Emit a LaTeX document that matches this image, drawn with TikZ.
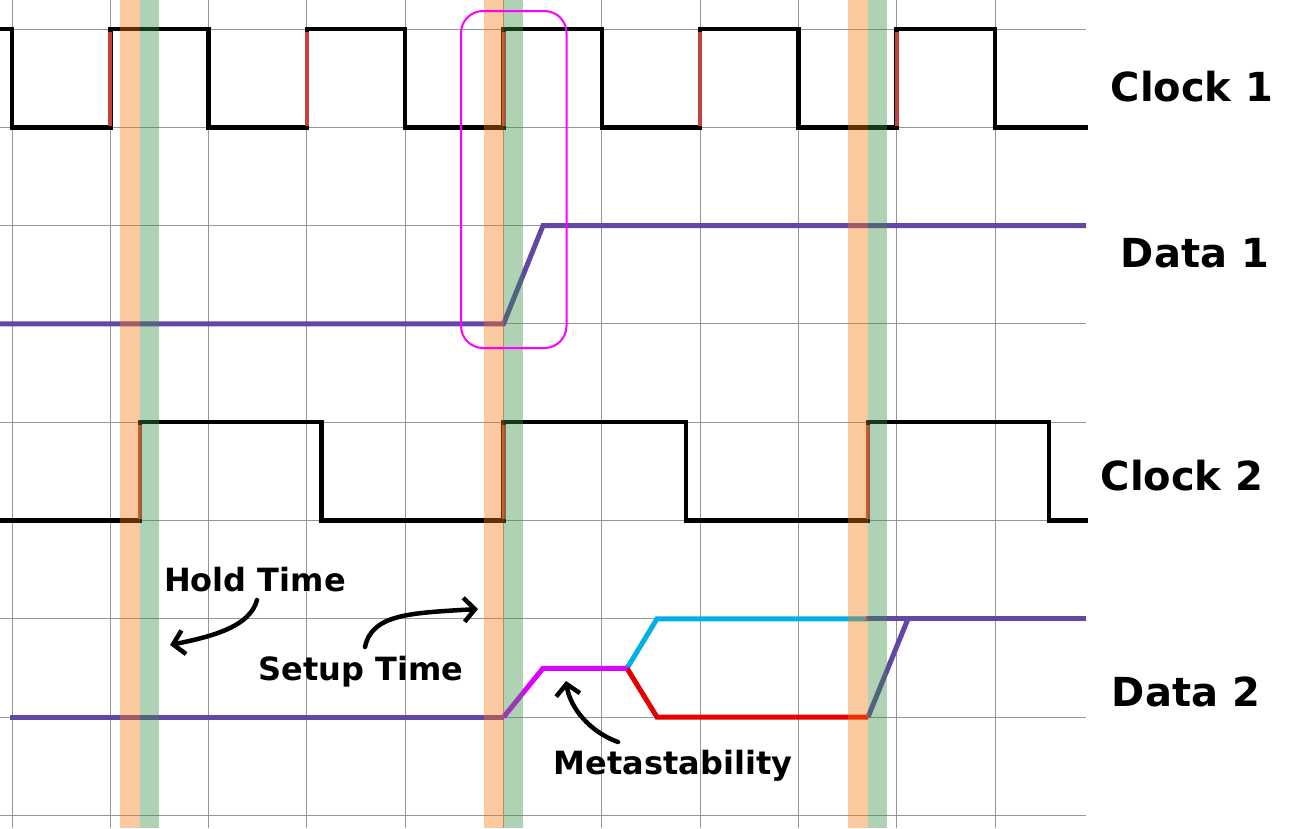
\documentclass[tikz,border=0pt]{standalone}
\usepackage{fontspec}
\setmainfont{DejaVu Sans}
\usetikzlibrary{arrows.meta}
\definecolor{gridc}{RGB}{150,150,150}
\definecolor{edgered}{RGB}{200,64,60}
\definecolor{datapurple}{RGB}{100,70,165}
\definecolor{bandorange}{RGB}{245,122,17}
\definecolor{bandgreen}{RGB}{57,143,68}
\definecolor{metamag}{RGB}{220,0,255}
\definecolor{metacyan}{RGB}{0,176,230}
\definecolor{metared}{RGB}{228,0,0}
\definecolor{winmag}{RGB}{255,0,255}
\tikzset{
  gridline/.style={draw=gridc,line width=1pt},
  clk/.style={draw=black,line width=4.5pt,line join=miter,line cap=rect},
  clkedge/.style={draw=edgered,line width=4pt},
  sig/.style={draw=datapurple,line width=5pt,line join=miter},
  metaline/.style={line width=5pt,line join=miter},
  band/.style={fill opacity=0.4},
  siglabel/.style={font=\bfseries\fontsize{40}{48}\selectfont,inner sep=0pt},
  notelabel/.style={font=\bfseries\fontsize{32}{38}\selectfont,inner sep=0pt},
  handarrow/.style={draw=black,line width=4.5pt,line cap=round,-{Straight Barb[length=11pt,width=24pt,line width=4.5pt]}},
  window/.style={draw=winmag,line width=2pt,rounded corners=22pt}
}
\begin{document}
\begin{tikzpicture}[x=1pt,y=-1pt]
\useasboundingbox (0,0) rectangle (1315,828);
\fill[white] (0,0) rectangle (1315,828);
% grid
\foreach \k in {0,...,10} {
  \draw[gridline] ({12+98.3*\k},0) -- ({12+98.3*\k},828);
}
\foreach \k in {0,...,8} {
  \draw[gridline] (0,{29+98.3*\k}) -- (1086,{29+98.3*\k});
}
% Clock 1
\draw[clk] (0,29) -- (12,29) -- (12,127.3) -- (110.3,127.3) -- (110.3,29) -- (208.6,29) -- (208.6,127.3)
  -- (306.9,127.3) -- (306.9,29) -- (405.2,29) -- (405.2,127.3) -- (503.5,127.3) -- (503.5,29)
  -- (601.8,29) -- (601.8,127.3) -- (700.1,127.3) -- (700.1,29) -- (798.4,29) -- (798.4,127.3)
  -- (896.7,127.3) -- (896.7,29) -- (995,29) -- (995,127.3) -- (1086,127.3);
\foreach \x in {110.3,306.9,503.5,700.1,896.7} {
  \draw[clkedge] (\x,126) -- (\x,31.5);
}
% Data 1
\draw[sig] (0,323.9) -- (503.5,323.9) -- (543,225.6) -- (1086,225.6);
% Clock 2
\draw[clk] (0,520.5) -- (140,520.5) -- (140,422.2) -- (321.7,422.2) -- (321.7,520.5) -- (503.5,520.5)
  -- (503.5,422.2) -- (686,422.2) -- (686,520.5) -- (868,520.5) -- (868,422.2) -- (1049,422.2)
  -- (1049,520.5) -- (1086,520.5);
\foreach \x in {140,503.5,868} {
  \draw[clkedge] (\x,519) -- (\x,424.5);
}
% Data 2
\draw[sig] (10,717.1) -- (503.5,717.1);
\draw[metaline,draw=metacyan] (627,668.3) -- (657,618.8) -- (868,618.8);
\draw[metaline,draw=metared] (627,668.3) -- (657,717.1) -- (868,717.1);
\draw[metaline,draw=metamag] (503.5,717.1) -- (543,668.3) -- (627,668.3);
\draw[sig] (868,717.1) -- (908,618.8);
\draw[sig] (866,618.8) -- (1086,618.8);
% setup / hold bands
\foreach \a in {120,484,848} {
  \fill[band,fill=bandorange] (\a,0) rectangle ({\a+19.5},828);
  \fill[band,fill=bandgreen] ({\a+19.5},0) rectangle ({\a+39},828);
}
% sampling window
\draw[window] (461,11) rectangle (566.5,348);
% labels
\node[siglabel] (clk1) at (1192,87) {Clock 1};
\node[siglabel] (dat1) at (1195,253) {Data 1};
\node[siglabel] (clk2) at (1182,476) {Clock 2};
\node[siglabel] (dat2) at (1186,692) {Data 2};
\node[notelabel] (hold) at (255,580) {Hold Time};
\node[notelabel] (setup) at (361,672) {Setup Time};
\node[notelabel] (meta) at (673,766) {Metastability};
% arrows
\coordinate (holdS) at (257,600);
\coordinate (holdE) at (170,645);
\coordinate (setupS) at (365,647);
\coordinate (setupE) at (478,609);
\coordinate (metaS) at (618,742);
\coordinate (metaE) at (566,681);
\draw[handarrow] (holdS) .. controls (250,626) and (215,636) .. (holdE);
\draw[handarrow] (setupS) .. controls (372,614) and (410,613) .. (setupE);
\draw[handarrow] (metaS) .. controls (590,732) and (570,708) .. (metaE);
\end{tikzpicture}
\end{document}
